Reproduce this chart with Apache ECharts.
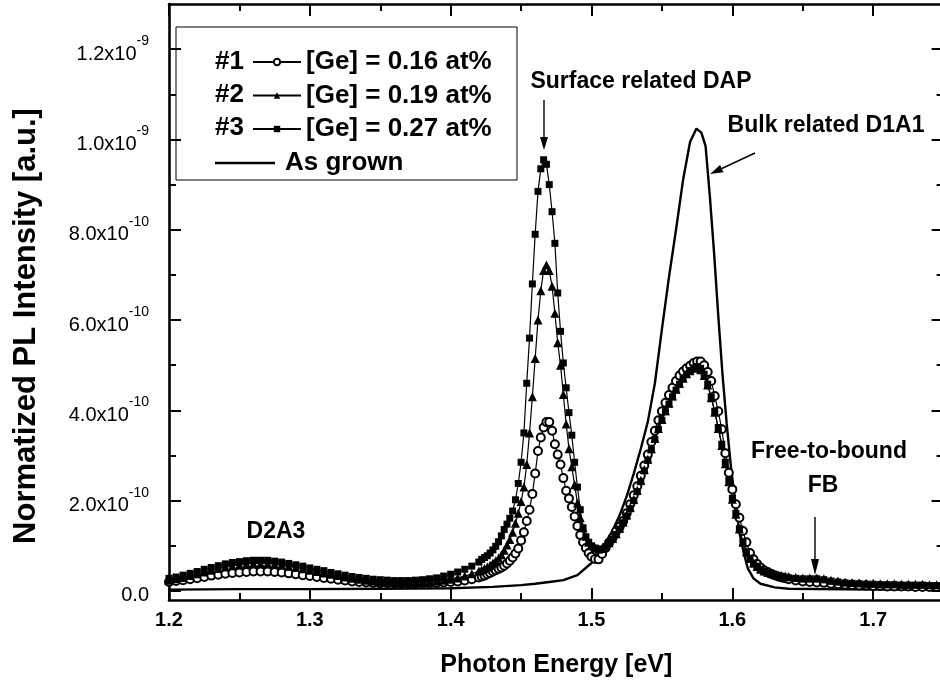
<!DOCTYPE html>
<html>
<head>
<meta charset="utf-8">
<script src="https://cdn.jsdelivr.net/npm/echarts@6/dist/echarts.min.js"></script>
<style>html,body{margin:0;padding:0;background:#fff}#c{width:940px;height:683px}</style>
</head>
<body>
<div id="c"></div>
<script>
// Photon energy grid (eV) shared by the three Ge-doped samples
const energy = [
  1.200,1.205,1.210,1.215,1.220,1.225,1.230,1.235,1.240,1.245,
  1.250,1.255,1.260,1.265,1.270,1.275,1.280,1.285,1.290,1.295,
  1.300,1.305,1.310,1.315,1.320,1.325,1.330,1.335,1.340,1.345,
  1.350,1.355,1.360,1.365,1.370,1.375,1.380,1.385,1.390,1.395,
  1.400,1.405,1.410,1.415,1.420,
  1.422,1.424,1.426,1.428,1.430,1.432,1.434,1.436,1.438,1.440,
  1.442,1.444,1.446,1.448,1.450,1.452,1.454,1.456,1.458,1.460,
  1.462,1.464,1.466,1.468,1.470,1.472,1.474,1.476,1.478,1.480,
  1.482,1.484,1.486,1.488,1.490,1.492,1.494,1.496,1.498,1.500,
  1.5025,1.5050,1.5075,1.5100,1.5125,1.5150,1.5175,1.5200,1.5225,1.5250,
  1.5275,1.5300,1.5325,1.5350,1.5375,1.5400,1.5425,1.5450,1.5475,1.5500,
  1.5525,1.5550,1.5575,1.5600,1.5625,1.5650,1.5675,1.5700,1.5725,1.5750,
  1.5775,1.5800,1.5825,1.5850,1.5875,1.5900,1.5925,1.5950,1.5975,1.6000,
  1.6025,1.6050,1.6075,1.6100,1.6125,1.6150,1.6175,1.6200,1.6225,1.6250,
  1.6275,1.6300,1.6325,1.6350,1.6375,1.6400,
  1.645,1.650,1.655,1.660,1.665,1.670,1.675,1.680,1.685,1.690,
  1.695,1.700,1.705,1.710,1.715,1.720,1.725,1.730,1.735,1.740,
  1.745,1.750
];

// Normalized PL intensity, in units of 1e-10 a.u.
// #1  [Ge] = 0.16 at%
const ge016 = [
  0.20,0.22,0.24,0.26,0.28,0.31,0.34,0.36,0.38,0.40,
  0.41,0.42,0.43,0.43,0.43,0.42,0.41,0.39,0.37,0.35,
  0.33,0.31,0.29,0.27,0.25,0.23,0.21,0.20,0.19,0.18,
  0.17,0.17,0.16,0.16,0.16,0.16,0.17,0.17,0.18,0.19,
  0.20,0.21,0.23,0.26,0.30,
  0.32,0.34,0.37,0.40,0.43,0.46,0.49,0.52,0.56,0.61,
  0.67,0.74,0.83,0.94,1.12,1.30,1.55,1.80,2.15,2.60,
  3.10,3.40,3.62,3.74,3.74,3.55,3.25,3.02,2.80,2.50,
  2.22,2.05,1.86,1.65,1.44,1.24,1.08,0.95,0.84,0.76,
  0.71,0.70,0.82,0.95,1.07,1.18,1.32,1.42,1.55,1.72,
  1.92,2.12,2.32,2.55,2.78,3.02,3.30,3.55,3.78,3.98,
  4.17,4.34,4.50,4.65,4.77,4.86,4.93,4.99,5.05,5.08,
  5.08,5.00,4.85,4.65,4.32,3.98,3.58,3.05,2.62,2.25,
  1.92,1.62,1.33,1.08,0.84,0.70,0.60,0.52,0.46,0.42,
  0.38,0.35,0.32,0.30,0.28,0.26,
  0.23,0.21,0.20,0.19,0.18,0.16,0.15,0.14,0.13,0.12,
  0.12,0.11,0.11,0.10,0.10,0.10,0.10,0.09,0.09,0.09,
  0.09,0.09
];
// #2  [Ge] = 0.19 at%
const ge019 = [
  0.24,0.27,0.30,0.34,0.38,0.42,0.46,0.50,0.53,0.56,
  0.58,0.60,0.61,0.61,0.61,0.60,0.58,0.55,0.52,0.49,
  0.46,0.43,0.40,0.37,0.34,0.31,0.28,0.26,0.24,0.22,
  0.21,0.20,0.19,0.19,0.19,0.19,0.20,0.21,0.22,0.24,
  0.26,0.29,0.33,0.38,0.44,
  0.47,0.50,0.53,0.57,0.62,0.67,0.73,0.80,0.90,1.02,
  1.14,1.30,1.50,1.72,1.98,2.30,2.80,3.50,4.30,5.15,
  6.00,6.65,7.10,7.22,7.10,6.75,6.15,5.50,5.00,4.35,
  3.70,3.15,2.75,2.35,1.95,1.62,1.40,1.21,1.08,1.00,
  0.96,0.93,0.94,0.99,1.07,1.16,1.27,1.39,1.53,1.68,
  1.85,2.03,2.23,2.45,2.69,2.92,3.15,3.38,3.60,3.80,
  3.99,4.16,4.32,4.47,4.60,4.71,4.81,4.88,4.93,4.95,
  4.90,4.77,4.56,4.28,3.96,3.60,3.22,2.82,2.42,2.03,
  1.70,1.37,1.08,0.87,0.72,0.62,0.55,0.49,0.45,0.42,
  0.39,0.37,0.35,0.34,0.33,0.32,
  0.30,0.29,0.29,0.29,0.27,0.24,0.22,0.20,0.19,0.18,
  0.17,0.17,0.16,0.16,0.16,0.15,0.15,0.15,0.15,0.14,
  0.14,0.14
];
// #3  [Ge] = 0.27 at%
const ge027 = [
  0.28,0.31,0.35,0.39,0.43,0.48,0.52,0.56,0.60,0.63,
  0.65,0.67,0.68,0.68,0.68,0.66,0.64,0.61,0.58,0.55,
  0.51,0.48,0.45,0.41,0.38,0.35,0.32,0.30,0.28,0.26,
  0.25,0.24,0.23,0.23,0.23,0.24,0.25,0.27,0.29,0.33,
  0.37,0.42,0.48,0.55,0.64,
  0.70,0.74,0.78,0.84,0.91,0.99,1.09,1.22,1.36,1.48,
  1.61,1.77,2.02,2.38,2.85,3.50,4.60,5.60,6.80,7.90,
  8.85,9.35,9.55,9.45,9.00,8.40,7.70,6.60,5.75,5.05,
  4.50,3.95,3.45,2.85,2.30,1.80,1.40,1.20,1.08,1.00,
  0.95,0.91,0.93,0.98,1.06,1.15,1.25,1.37,1.51,1.66,
  1.82,2.00,2.20,2.42,2.66,2.90,3.13,3.36,3.58,3.78,
  3.97,4.14,4.30,4.45,4.58,4.70,4.80,4.88,4.94,4.97,
  4.93,4.80,4.58,4.30,3.98,3.62,3.25,2.85,2.45,2.05,
  1.72,1.38,1.08,0.86,0.70,0.60,0.52,0.46,0.42,0.39,
  0.36,0.34,0.32,0.31,0.30,0.29,
  0.28,0.27,0.27,0.27,0.25,0.22,0.20,0.18,0.17,0.16,
  0.15,0.15,0.14,0.14,0.14,0.13,0.13,0.13,0.13,0.12,
  0.12,0.12
];
// As grown (solid line)
const asGrownEnergy = [
  1.20,1.25,1.30,1.35,1.40,1.43,1.45,1.46,1.47,1.48,
  1.49,1.50,1.505,1.51,1.515,1.52,1.525,1.53,1.535,1.54,
  1.545,1.55,1.555,1.56,1.565,1.57,1.5745,1.578,1.581,1.584,
  1.587,1.590,1.593,1.596,1.599,1.602,1.605,1.608,1.611,1.615,
  1.62,1.63,1.64,1.70,1.75
];
const asGrown = [
  0.03,0.04,0.04,0.05,0.06,0.09,0.13,0.16,0.20,0.24,
  0.35,0.62,0.82,1.07,1.34,1.68,2.10,2.60,3.15,3.75,
  4.60,5.80,6.95,8.00,9.10,9.95,10.24,10.15,9.85,8.75,
  7.50,6.10,4.80,3.70,2.75,2.00,1.30,0.85,0.50,0.28,
  0.16,0.08,0.05,0.03,0.03
];

const seriesNames = ['[Ge] = 0.16 at%', '[Ge] = 0.19 at%', '[Ge] = 0.27 at%', 'As grown'];
const sampleTags = ['#1', '#2', '#3'];

// Axes / ticks
const xMajorTicks = [1.2, 1.3, 1.4, 1.5, 1.6, 1.7];
const xMinorTicks = [1.25, 1.35, 1.45, 1.55, 1.65];
const yMajorTicks = [0, 2, 4, 6, 8, 10, 12];       // units of 1e-10
const yMinorTicks = [1, 3, 5, 7, 9, 11];
const yTickMantissa = ['0.0', '2.0', '4.0', '6.0', '8.0', '1.0', '1.2'];
const yTickExponent = ['', '-10', '-10', '-10', '-10', '-9', '-9'];

const FONT = '"Liberation Sans", Arial, Helvetica, sans-serif';
const X_MIN = 1.2, X_MAX = 1.75, Y_MIN = -0.2, Y_MAX = 13.0;

function pairs(xs, ys) { return xs.map((x, i) => [x, ys[i]]); }

function xAx(position, ticks, len, showLine, showLabels, extra) {
  return Object.assign({
    type: 'value', gridIndex: 0, position: position, min: X_MIN, max: X_MAX,
    axisLine: { show: showLine, onZero: false, lineStyle: { color: '#000', width: 2.6 } },
    axisTick: { show: true, inside: true, length: len, customValues: ticks, lineStyle: { color: '#000', width: 2 } },
    axisLabel: { show: showLabels },
    splitLine: { show: false }, minorTick: { show: false }
  }, extra || {});
}
function yAx(position, ticks, len, showLine, showLabels, extra) {
  return Object.assign({
    type: 'value', gridIndex: 0, position: position, min: Y_MIN, max: Y_MAX,
    axisLine: { show: showLine, onZero: false, lineStyle: { color: '#000', width: 2.6 } },
    axisTick: { show: true, inside: true, length: len, customValues: ticks, lineStyle: { color: '#000', width: 2 } },
    axisLabel: { show: showLabels },
    splitLine: { show: false }, minorTick: { show: false }
  }, extra || {});
}

function arrow(x1, y1, x2, y2, headLen, headHalf) {
  const dx = x2 - x1, dy = y2 - y1, L = Math.hypot(dx, dy);
  const ux = dx / L, uy = dy / L;
  const bx = x2 - ux * headLen, by = y2 - uy * headLen;
  const nx = -uy * headHalf, ny = ux * headHalf;
  return [
    { type: 'line', shape: { x1: x1, y1: y1, x2: bx, y2: by }, style: { stroke: '#000', lineWidth: 1.4 }, z: 10 },
    { type: 'polygon', shape: { points: [[x2, y2], [bx + nx, by + ny], [bx - nx, by - ny]] }, style: { fill: '#000' }, z: 10 }
  ];
}
function label(text, x, y, size) {
  return { type: 'text', x: x, y: y, z: 10,
    style: { text: text, fill: '#000', fontFamily: FONT, fontWeight: 'bold', fontSize: size, align: 'center', verticalAlign: 'middle' } };
}
function tag(text, y) {
  return { type: 'text', x: 215, y: y, z: 10,
    style: { text: text, fill: '#000', fontFamily: FONT, fontWeight: 'bold', fontSize: 26, align: 'left', verticalAlign: 'middle' } };
}

const chart = echarts.init(document.getElementById('c'), null, { renderer: 'canvas' });

const xAxes = [
  xAx('bottom', xMajorTicks, 12, true, true, {
    name: 'Photon Energy [eV]', nameLocation: 'middle', nameGap: 53,
    nameTextStyle: { fontFamily: FONT, fontWeight: 'bold', fontSize: 25, color: '#000' },
    axisLabel: { show: true, customValues: xMajorTicks, margin: 10, color: '#000',
      fontFamily: FONT, fontWeight: 'bold', fontSize: 20, formatter: v => v.toFixed(1) }
  }),
  xAx('bottom', xMinorTicks, 7, false, false),
  xAx('top', xMajorTicks, 12, true, false),
  xAx('top', xMinorTicks, 7, false, false)
];
const yAxes = [
  yAx('left', yMajorTicks, 12, true, true, {
    axisLabel: { show: true, customValues: yMajorTicks, margin: 20, color: '#000',
      formatter: function (v) {
        const i = yMajorTicks.findIndex(t => Math.abs(t - v) < 1e-6);
        if (i < 0) return '';
        return yTickExponent[i] ? '{b|' + yTickMantissa[i] + 'x10}{s|' + yTickExponent[i] + '}' : '{b|' + yTickMantissa[i] + '}';
      },
      rich: {
        b: { fontFamily: FONT, fontSize: 20, color: '#000', lineHeight: 30, verticalAlign: 'bottom' },
        s: { fontFamily: FONT, fontSize: 14, color: '#000', lineHeight: 12, verticalAlign: 'top' }
      }
    }
  }),
  yAx('left', yMinorTicks, 7, false, false),
  yAx('right', yMajorTicks, 12, true, false),
  yAx('right', yMinorTicks, 7, false, false)
];

function sampleSeries(name, values, symbol, size, empty) {
  return {
    type: 'line', name: name, xAxisIndex: 0, yAxisIndex: 0,
    data: pairs(energy, values),
    symbol: symbol, symbolSize: size, showSymbol: true, showAllSymbol: true,
    lineStyle: { color: '#000', width: 1.2 },
    itemStyle: { color: '#000', borderColor: '#000', borderWidth: empty ? 1.1 : 0 },
    emphasis: { disabled: true }, silent: true, animation: false
  };
}

const option = {
  backgroundColor: '#fff',
  animation: false,
  grid: { left: 169, top: 4, width: 774.6, height: 596, containLabel: false, outerBoundsMode: 'none' },
  xAxis: xAxes,
  yAxis: yAxes,
  legend: [
    {
      data: seriesNames.slice(0, 3), orient: 'vertical', left: 252, top: 49, padding: 0,
      itemWidth: 48, itemHeight: 8, itemGap: 7.5, selectedMode: false,
      textStyle: { fontFamily: FONT, fontWeight: 'bold', fontSize: 26, color: '#000', lineHeight: 26 }
    },
    {
      data: [seriesNames[3]], orient: 'vertical', left: 215, top: 150, padding: 0,
      icon: 'rect', itemWidth: 60, itemHeight: 2.5, selectedMode: false,
      textStyle: { fontFamily: FONT, fontWeight: 'bold', fontSize: 26, color: '#000', lineHeight: 26, padding: [0, 0, 0, 5] }
    }
  ],
  series: [
    {
      type: 'line', name: seriesNames[3], xAxisIndex: 0, yAxisIndex: 0,
      data: pairs(asGrownEnergy, asGrown), symbol: 'none', showSymbol: false,
      lineStyle: { color: '#000', width: 2.4 }, itemStyle: { color: '#000' },
      emphasis: { disabled: true }, silent: true, animation: false
    },
    sampleSeries(seriesNames[0], ge016, 'emptyCircle', 8, true),
    sampleSeries(seriesNames[1], ge019, 'triangle', 9, false),
    sampleSeries(seriesNames[2], ge027, 'rect', 7, false)
  ],
  graphic: [
    { type: 'rect', shape: { x: 176, y: 27, width: 341, height: 153 }, style: { fill: 'none', stroke: '#000', lineWidth: 1 }, z: 1 },
    tag(sampleTags[0], 62), tag(sampleTags[1], 95), tag(sampleTags[2], 128),
    { type: 'text', x: 26, y: 326, rotation: Math.PI / 2, z: 10,
      style: { text: 'Normatized PL Intensity [a.u.]', fill: '#000', fontFamily: FONT, fontWeight: 'bold', fontSize: 31, align: 'center', verticalAlign: 'middle' } },
    label('Surface related DAP', 641, 82, 23),
    label('Bulk related D1A1', 826, 126, 23),
    label('Free-to-bound', 829, 452, 23),
    label('FB', 823, 486, 23),
    label('D2A3', 276, 532, 23)
  ].concat(
    arrow(544, 100, 544, 150, 13, 4),
    arrow(755, 153, 710, 174, 13, 4),
    arrow(815, 517, 815, 575, 16, 4)
  )
};
chart.setOption(option);
</script>
</body>
</html>
